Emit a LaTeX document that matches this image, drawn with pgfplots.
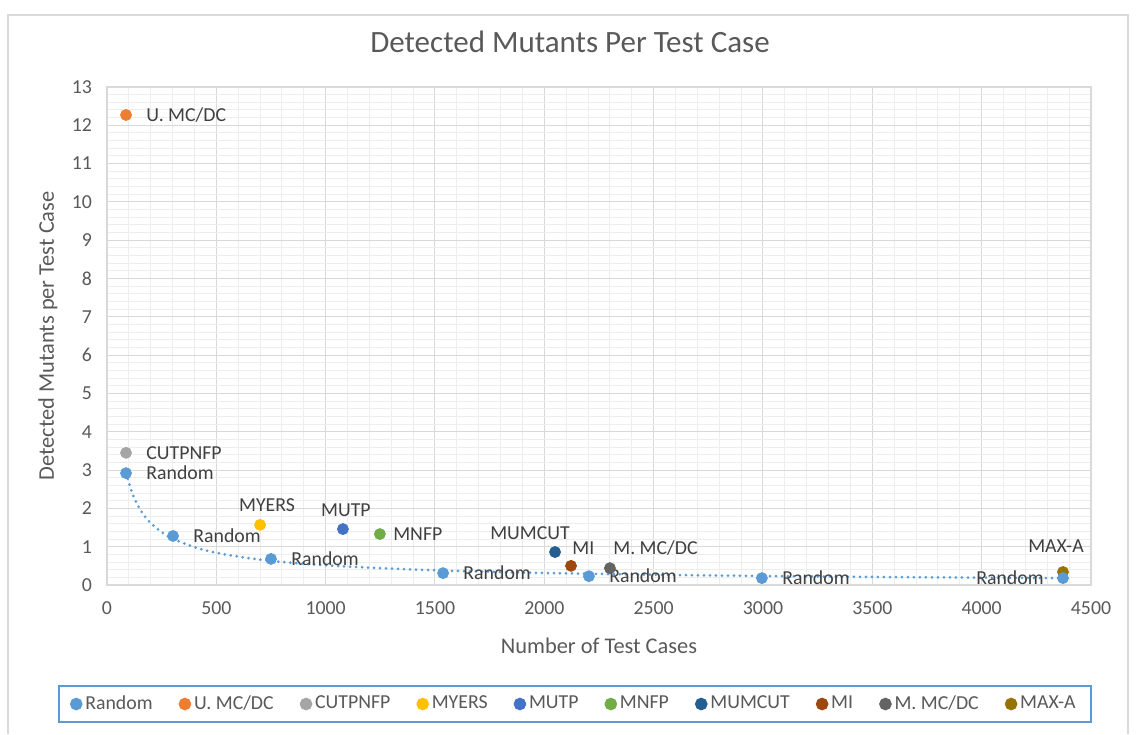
\documentclass[border=0pt]{standalone}
\usepackage{pgfplots}
\pgfplotsset{compat=1.18}
\usepackage{fontspec}
\setmainfont{Carlito}
\definecolor{cRandom}{HTML}{5B9BD5}
\definecolor{cUMCDC}{HTML}{ED7D31}
\definecolor{cCUTPNFP}{HTML}{A5A5A5}
\definecolor{cMYERS}{HTML}{FFC000}
\definecolor{cMUTP}{HTML}{4472C4}
\definecolor{cMNFP}{HTML}{70AD47}
\definecolor{cMUMCUT}{HTML}{255E91}
\definecolor{cMI}{HTML}{9E480E}
\definecolor{cMMCDC}{HTML}{636363}
\definecolor{cMAXA}{HTML}{997300}
\definecolor{txt}{HTML}{595959}
\definecolor{lbl}{HTML}{404040}
\definecolor{gridmaj}{HTML}{D9D9D9}
\definecolor{gridmin}{HTML}{EDEDED}
\pgfplotsset{
  lab/.style={nodes near coords={#1},
    every node near coord/.append style={font=\fontsize{9.9}{12}\selectfont, text=lbl, inner sep=0pt}},
}
\begin{document}
\begin{tikzpicture}
\path (0,0) rectangle (568pt,367pt);
\draw[gridmaj, line width=0.6pt] (4pt,0) -- (4pt,359.5pt) -- (564pt,359.5pt) -- (564pt,0);
\node[font=\fontsize{15.5}{18}\selectfont, text=txt] at (285pt,346pt) {Detected Mutants Per Test Case};
\begin{axis}[
  at={(53.5pt,74.5pt)}, anchor=south west,
  scale only axis, width=492pt, height=249pt,
  xmin=0, xmax=4500, ymin=0, ymax=13,
  xtick={0,500,...,4500}, ytick={0,1,...,13},
  minor x tick num=4, minor y tick num=4,
  grid=both,
  major grid style={gridmaj, line width=0.5pt},
  minor grid style={gridmin, line width=0.5pt},
  axis line style={gridmaj, line width=0.6pt},
  major tick length=0pt, minor tick length=0pt,
  tick label style={font=\fontsize{9.9}{12}\selectfont, text=txt},
  /pgf/number format/assume math mode=true,
  /pgf/number format/1000 sep={},
  scaled x ticks=false,
  xticklabel style={yshift=-5pt},
  yticklabel style={xshift=-4pt},
  xlabel={Number of Test Cases},
  ylabel={Detected Mutants per Test Case},
  label style={font=\fontsize{11.2}{13}\selectfont, text=txt},
  xlabel style={at={(axis description cs:0.5,-0.1225)}, anchor=center},
  ylabel style={at={(axis description cs:-0.06,0.5)}, anchor=center},
  legend columns=10,
  legend image code/.code={\draw[#1] plot coordinates {(0pt,0pt)};},
  legend style={at={(rel axis cs:0.4756,-0.239)}, anchor=center,
    draw=cRandom, line width=0.8pt,
    font=\fontsize{9.9}{12}\selectfont, text=txt,
    inner xsep=6pt, inner ysep=3pt,
    /tikz/every even column/.append style={column sep=11.6pt},
    nodes={inner sep=1.8pt}},
  every axis plot/.append style={only marks, mark=*, mark size=2.75pt},
  clip=false,
]
% trendline (power fit)
\addplot[forget plot, no marks, cRandom, line width=1.5pt, line cap=round, dash pattern=on 0pt off 3pt, smooth] coordinates {
(87,2.92) (120,2.325) (160,1.895) (200,1.616) (250,1.380) (300,1.211) (400,0.987) (500,0.842) (650,0.699) (800,0.603) (1000,0.514) (1300,0.427) (1600,0.368) (2000,0.314) (2500,0.268) (3000,0.235) (3500,0.211) (4000,0.192) (4372,0.180)};

\addplot[cRandom, mark options={draw=cRandom, fill=cRandom}, lab={Random},
  every node near coord/.append style={anchor=west, xshift=10pt}] coordinates {
(87,2.92) (302,1.28) (750,0.68) (1537,0.31) (2204,0.23) (2995,0.18)};
\addlegendentry{Random}
\addplot[cUMCDC, mark options={draw=cUMCDC, fill=cUMCDC}, lab={U. MC/DC},
  every node near coord/.append style={anchor=west, xshift=10pt}] coordinates {(87,12.27)};
\addlegendentry{U. MC/DC}
\addplot[cCUTPNFP, mark options={draw=cCUTPNFP, fill=cCUTPNFP}, lab={CUTPNFP},
  every node near coord/.append style={anchor=west, xshift=10pt}] coordinates {(87,3.45)};
\addlegendentry{CUTPNFP}
\addplot[cMYERS, mark options={draw=cMYERS, fill=cMYERS}, lab={MYERS},
  every node near coord/.append style={anchor=center, xshift=3.5pt, yshift=10pt}] coordinates {(700,1.57)};
\addlegendentry{MYERS}
\addplot[cMUTP, mark options={draw=cMUTP, fill=cMUTP}, lab={MUTP},
  every node near coord/.append style={anchor=center, xshift=1.5pt, yshift=9.5pt}] coordinates {(1079,1.46)};
\addlegendentry{MUTP}
\addplot[cMNFP, mark options={draw=cMNFP, fill=cMNFP}, lab={MNFP},
  every node near coord/.append style={anchor=west, xshift=6.5pt}] coordinates {(1248,1.33)};
\addlegendentry{MNFP}
\addplot[cMUMCUT, mark options={draw=cMUMCUT, fill=cMUMCUT}, lab={MUMCUT},
  every node near coord/.append style={anchor=center, xshift=-12.5pt, yshift=9.5pt}] coordinates {(2049,0.86)};
\addlegendentry{MUMCUT}
\addplot[cMI, mark options={draw=cMI, fill=cMI}, lab={MI},
  every node near coord/.append style={anchor=west, xshift=0.5pt, yshift=9pt}] coordinates {(2122,0.50)};
\addlegendentry{MI}
\addplot[cMMCDC, mark options={draw=cMMCDC, fill=cMMCDC}, lab={M. MC/DC},
  every node near coord/.append style={anchor=west, xshift=1.5pt, yshift=10pt}] coordinates {(2300,0.44)};
\addlegendentry{M. MC/DC}
\addplot[cMAXA, mark options={draw=cMAXA, fill=cMAXA}, lab={MAX-A},
  every node near coord/.append style={anchor=center, xshift=-3.5pt, yshift=13pt}] coordinates {(4372,0.34)};
\addlegendentry{MAX-A}
\addplot[forget plot, cRandom, mark options={draw=cRandom, fill=cRandom}, lab={Random},
  every node near coord/.append style={anchor=east, xshift=-9.5pt}] coordinates {(4372,0.18)};
\end{axis}
\end{tikzpicture}
\end{document}
